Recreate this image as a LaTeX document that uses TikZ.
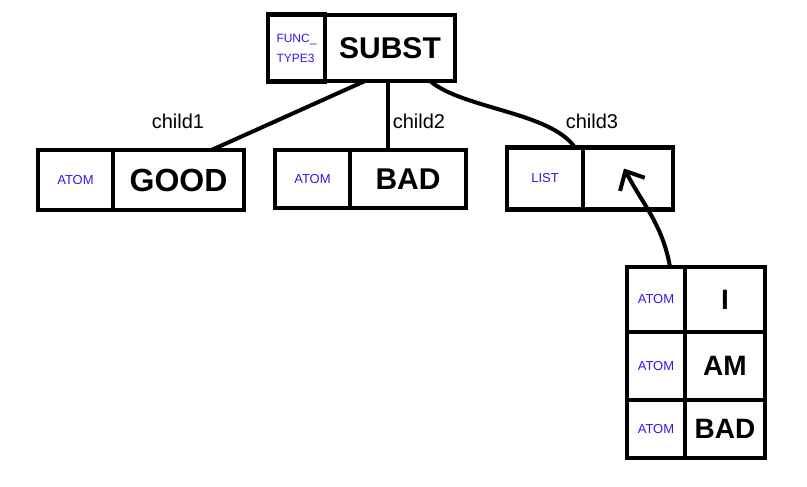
\documentclass[tikz,border=0pt]{standalone}
\usepackage{fontspec}
\setmainfont{Liberation Sans}
\usetikzlibrary{arrows.meta, positioning}
\definecolor{atomblue}{RGB}{45,25,235}

\begin{document}
\begin{tikzpicture}[
  x=1pt, y=1pt,
  tagcell/.style={draw, line width=4.5pt, outer sep=0pt, minimum height=60pt, align=left, text=atomblue, font=\fontsize{13}{15}\selectfont},
  valcell/.style={draw, line width=4.5pt, outer sep=0pt, minimum height=60pt, font=\fontsize{32}{36}\selectfont\bfseries},
  childlbl/.style={font=\fontsize{20}{24}\selectfont},
  link/.style={line width=4pt},
  arr/.style={-{Straight Barb[length=15pt, width=28pt]}, line width=4pt},
  node distance=0pt
]
\useasboundingbox (0,0) rectangle (807,-487);

% root record
\node[tagcell, minimum width=57pt, minimum height=67pt, font=\fontsize{12}{20}\selectfont] (funcTag) at (296.5,-48) {FUNC\_\\TYPE3};
\node[valcell, right=of funcTag, minimum width=130pt, minimum height=66pt, font=\fontsize{30}{34}\selectfont\bfseries] (substVal) {SUBST};

% children
\node[tagcell, minimum width=75pt] (goodTag) at (75.5,-180) {ATOM};
\node[valcell, right=of goodTag, minimum width=131pt] (goodVal) {GOOD};

\node[tagcell, minimum width=75pt, minimum height=58pt] (badTag) at (312.5,-179) {ATOM};
\node[valcell, right=of badTag, minimum width=116pt, minimum height=58pt, font=\fontsize{30}{34}\selectfont\bfseries] (badVal) {BAD};

\node[tagcell, minimum width=76pt, minimum height=62pt] (listTag) at (545,-178.5) {LIST};
\node[valcell, right=of listTag, minimum width=90pt, minimum height=62pt] (listVal) {};

\node[childlbl] (child1) at (178,-121) {child1};
\node[childlbl] (child2) at (419,-121) {child2};
\node[childlbl] (child3) at (592,-121) {child3};

% list table
\node[tagcell, minimum width=58pt, minimum height=65pt] (iTag) at (656,-299.5) {ATOM};
\node[valcell, right=of iTag, minimum width=80pt, minimum height=65pt, font=\fontsize{28}{32}\selectfont\bfseries] (iVal) {I};
\node[tagcell, below=of iTag, minimum width=58pt, minimum height=68pt] (amTag) {ATOM};
\node[valcell, right=of amTag, minimum width=80pt, minimum height=68pt, font=\fontsize{28}{32}\selectfont\bfseries] (amVal) {AM};
\node[tagcell, below=of amTag, minimum width=58pt, minimum height=58pt] (badTwoTag) {ATOM};
\node[valcell, right=of badTwoTag, minimum width=80pt, minimum height=58pt, font=\fontsize{28}{32}\selectfont\bfseries] (badTwoVal) {BAD};

\draw[link] ([xshift=-25pt]substVal.south) -- ([xshift=33pt]goodVal.north);
\draw[link] ([xshift=-2pt]substVal.south) -- ([xshift=-20pt]badVal.north);
\draw[link] ([xshift=40pt]substVal.south) to[out=-40, in=125, looseness=0.7] ([xshift=-8pt]listTag.north east);

\draw[arr] ([xshift=-15pt]iTag.north east) to[out=100, in=-62] ([shift={(-4pt,10pt)}]listVal.center);
\end{tikzpicture}
\end{document}
